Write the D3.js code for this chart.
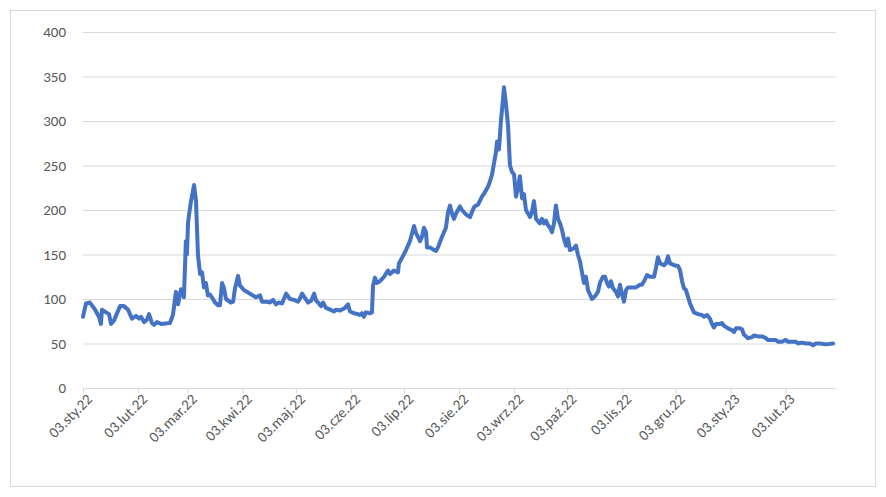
<!DOCTYPE html>
<html>
<head>
<meta charset="utf-8">
<script src="https://d3js.org/d3.v7.min.js"></script>
<style>
  body { margin: 0; background: #fff; }
  text { font-family: Calibri, Carlito, "Liberation Sans", Arial, sans-serif; fill: #595959; font-size: 15px; }
</style>
</head>
<body>
<script>
// days after 03.01.2022
var days = [0,1.7,3.9,6.8,9.0,10.1,10.7,13.0,14.7,15.8,17.5,20.9,23.1,25.4,27.6,29.9,31.6,32.7,34.4,36.1,37.2,38.9,40.0,41.7,44.0,49.0,50.7,52.4,53.6,55.2,56.4,56.9,58.0,58.6,59.2,59.8,60.9,62.6,63.7,64.8,66.0,67.1,68.2,69.3,70.4,71.6,73.3,74.4,76.1,77.2,78.4,79.5,80.6,83.4,84.6,85.7,87.4,88.5,90.8,94.2,97.5,99.8,100.9,103.2,105.4,107.1,108.8,110.5,112.2,114.5,116.7,119.0,121.2,122.4,123.5,125.2,126.9,128.6,130.3,131.4,132.5,134.2,135.3,137.0,139.3,141.5,142.6,144.9,147.7,149.4,150.5,152.8,155.0,156.1,157.3,158.4,159.5,161.8,162.9,163.5,164.6,165.7,167.4,169.7,171.9,173.1,175.3,177.6,178.1,179.8,182.1,184.3,185.5,186.6,187.7,188.8,190.0,191.1,192.2,193.4,193.9,195.6,197.9,199.0,200.1,202.4,204.6,205.8,206.9,208.0,209.1,210.3,212.5,213.6,215.9,218.2,219.3,220.4,221.5,222.7,224.9,226.0,228.3,229.4,230.6,232.8,233.4,234.5,235.6,236.8,237.3,238.4,239.6,240.7,241.8,243.0,244.1,245.2,246.3,247.5,248.6,249.7,252.0,253.1,254.2,255.4,257.6,258.7,259.9,261.0,262.1,263.3,264.4,265.5,266.6,267.8,268.9,270.0,271.1,272.3,273.4,274.5,276.8,277.9,279.0,280.2,281.3,282.4,283.5,284.7,285.8,286.9,288.6,290.3,291.4,293.1,294.3,295.4,296.5,297.6,298.8,300.5,301.6,302.7,303.8,305.0,306.1,307.2,309.5,311.7,314.0,315.1,316.8,318.0,319.6,321.9,323.0,324.1,325.3,327.5,328.6,329.8,330.9,333.2,335.4,336.5,337.7,338.8,339.9,342.2,344.4,346.7,348.9,350.1,351.8,353.4,354.6,355.7,356.8,359.1,360.2,361.3,363.6,365.8,367.0,368.1,370.4,371.5,372.6,374.9,377.1,378.2,380.5,382.8,385.0,386.1,388.4,390.6,391.8,394.0,396.3,397.4,399.7,401.9,403.1,405.3,407.6,409.8,411.5,413.2,415.5,418.8,422.8];
var values = [80,95,96,88,80,72,88,85,83,72,76,92,92,88,78,81,78,80,74,77,83,73,71,74,72,73,82,108,94,111,106,102,165,150,185,195,210,228,210,150,128,130,113,118,104,105,100,96,93,93,118,112,100,96,97,112,126,115,110,106,102,104,97,97,96,99,94,96,95,106,100,99,97,101,106,101,96,98,106,98,96,92,96,90,88,86,88,87,90,94,86,84,83,82,84,80,85,84,85,115,124,118,120,125,132,128,132,130,140,146,155,165,174,182,174,170,165,170,180,175,158,158,155,154,158,170,180,198,205,196,190,196,204,200,195,192,198,203,205,206,215,218,226,232,240,265,277,268,300,325,338,320,295,250,243,240,215,225,238,213,218,200,192,198,210,190,185,190,185,188,183,180,175,185,205,190,185,178,168,160,168,155,157,160,150,142,130,118,125,110,105,100,103,108,118,125,125,118,114,120,112,108,103,116,106,97,110,113,113,113,116,116,122,127,125,125,135,147,140,138,140,148,140,138,137,133,120,112,110,95,85,83,82,80,82,78,72,68,72,72,73,70,67,65,63,67,67,66,60,56,57,59,58,58,56,54,54,54,52,52,54,52,52,52,50,51,50,50,48,50,50,49,50];
var tickDates = ["2022-01-03","2022-02-03","2022-03-03","2022-04-03","2022-05-03","2022-06-03","2022-07-03","2022-08-03","2022-09-03","2022-10-03","2022-11-03","2022-12-03","2023-01-03","2023-02-03"];
var tickLabels = ["03.sty.22","03.lut.22","03.mar.22","03.kwi.22","03.maj.22","03.cze.22","03.lip.22","03.sie.22","03.wrz.22","03.paź.22","03.lis.22","03.gru.22","03.sty.23","03.lut.23"];
var yTicks = [0,50,100,150,200,250,300,350,400];

var W = 886, H = 497;
var start = new Date(2022, 0, 3);
var dayMs = 86400000;
var data = days.map(function(d, i) { return { date: new Date(start.getTime() + d * dayMs), v: values[i] }; });

var svg = d3.select("body").append("svg").attr("width", W).attr("height", H);
svg.append("rect").attr("x", 10.5).attr("y", 10.5).attr("width", 865).attr("height", 476)
  .attr("fill", "#fff").attr("stroke", "#d9d9d9");

var x = d3.scaleTime()
  .domain([start, new Date(start.getTime() + 422.8 * dayMs)])
  .range([83, 833]);
var y = d3.scaleLinear().domain([0, 400]).range([388, 32]);

// grid
svg.append("g").selectAll("line").data(yTicks.slice(1)).enter().append("line")
  .attr("x1", 83).attr("x2", 836)
  .attr("y1", function(d) { return y(d) + 0.5; }).attr("y2", function(d) { return y(d) + 0.5; })
  .attr("stroke", "#d9d9d9").attr("stroke-width", 1);

svg.append("g").selectAll("text").data(yTicks).enter().append("text")
  .attr("x", 66).attr("y", function(d) { return y(d) + 5; })
  .attr("text-anchor", "end").text(function(d) { return d; });

// x axis
var parse = d3.timeParse("%Y-%m-%d");
var xAxis = d3.axisBottom(x)
  .tickValues(tickDates.map(parse))
  .tickFormat(function(d, i) { return tickLabels[i]; })
  .tickSize(5).tickSizeOuter(0);
var gx = svg.append("g").attr("transform", "translate(0,388.5)").call(xAxis);
gx.select(".domain").attr("stroke", "#d9d9d9").attr("d", "M83,0H836");
gx.selectAll(".tick line").attr("stroke", "#d9d9d9");
gx.selectAll(".tick text")
  .attr("font-size", 15).attr("fill", "#595959")
  .attr("text-anchor", "end")
  .attr("transform", "translate(6,8) rotate(-45)")
  .attr("dy", "0.35em").attr("y", 0).attr("x", 0);

var line = d3.line().x(function(d) { return x(d.date); }).y(function(d) { return y(d.v); });
svg.append("path").datum(data).attr("d", line)
  .attr("fill", "none").attr("stroke", "#4472c4").attr("stroke-width", 4)
  .attr("stroke-linejoin", "round").attr("stroke-linecap", "round");
</script>
</body>
</html>
